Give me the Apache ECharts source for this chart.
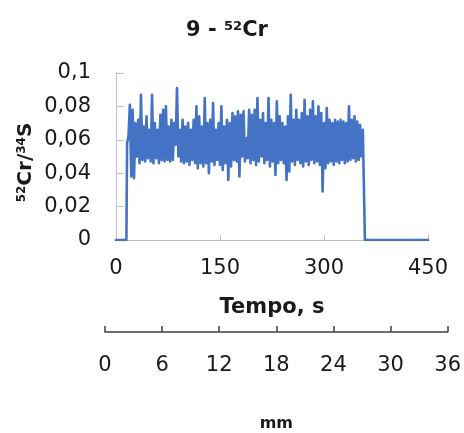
<!DOCTYPE html>
<html><head><meta charset="utf-8">
<script src="https://cdn.jsdelivr.net/npm/echarts@6/dist/echarts.min.js"></script>
<style>html,body{margin:0;padding:0;background:#fff}#c{width:464px;height:433px}</style>
</head><body><div id="c"></div>
<script>
const timeS = [0,15,16,18,20,22,24,26,28,30,32,34,
36,38,40,42,44,46,48,50,52,54,
56,58,60,62,64,66,68,70,72,74,
76,78,80,82,84,86,88,90,92,94,
96,98,100,102,104,106,108,110,112,114,
116,118,120,122,124,126,128,130,132,134,
136,138,140,142,144,146,148,150,152,154,
156,158,160,162,164,166,168,170,172,174,
176,178,180,182,184,186,188,190,192,194,
196,198,200,202,204,206,208,210,212,214,
216,218,220,222,224,226,228,230,232,234,
236,238,240,242,244,246,248,250,252,254,
256,258,260,262,264,266,268,270,272,274,
276,278,280,282,284,286,288,290,292,294,
296,298,300,302,304,306,308,310,312,314,
316,318,320,322,324,326,328,330,332,334,
336,338,340,342,344,346,348,350,352,354,
356,358,359,450];
const ratio = [0,0,0.058,0.062,0.081,0.038,0.078,0.037,0.070,0.050,0.072,0.046,
0.087,0.048,0.068,0.047,0.074,0.049,0.066,0.047,0.087,0.046,
0.070,0.049,0.066,0.046,0.075,0.048,0.078,0.047,0.080,0.048,
0.068,0.047,0.072,0.048,0.070,0.057,0.091,0.050,0.066,0.047,
0.072,0.046,0.068,0.047,0.070,0.045,0.066,0.048,0.072,0.046,
0.080,0.043,0.074,0.046,0.068,0.044,0.085,0.046,0.070,0.040,
0.072,0.047,0.082,0.045,0.066,0.048,0.070,0.045,0.080,0.042,
0.068,0.046,0.072,0.036,0.070,0.044,0.076,0.048,0.074,0.047,
0.077,0.038,0.075,0.050,0.077,0.047,0.061,0.049,0.078,0.046,
0.075,0.048,0.078,0.045,0.085,0.047,0.072,0.050,0.076,0.046,
0.070,0.048,0.085,0.044,0.072,0.047,0.070,0.039,0.083,0.046,
0.074,0.048,0.070,0.046,0.068,0.036,0.074,0.041,0.087,0.047,
0.072,0.045,0.078,0.048,0.072,0.046,0.076,0.044,0.084,0.047,
0.074,0.045,0.078,0.048,0.083,0.046,0.074,0.047,0.080,0.045,
0.076,0.029,0.070,0.043,0.079,0.046,0.072,0.047,0.070,0.045,
0.072,0.047,0.071,0.046,0.072,0.048,0.071,0.046,0.070,0.047,
0.080,0.048,0.072,0.049,0.074,0.047,0.071,0.048,0.069,0.050,
0.066,0.065,0,0];
const yTicks = [0,0.02,0.04,0.06,0.08,0.1];
const xTicksTime = [0,150,300,450];
const xTicksMm = [0,6,12,18,24,30,36];

const FF = 'DejaVu Sans, Verdana, sans-serif';
const chart = echarts.init(document.getElementById('c'));
const fmtComma = v => String(+v.toFixed(2)).replace('.', ',');
chart.setOption({
  animation:false,
  backgroundColor:'#ffffff',
  textStyle:{fontFamily:FF},
  title:{
    text:'{b|9 - }{s|52}{b|Cr}',
    left:222, top:15, textAlign:'center',
    textStyle:{rich:{
      b:{fontSize:21,fontWeight:'bold',color:'#1a1a1a',fontFamily:FF},
      s:{fontSize:13,fontWeight:'bold',color:'#1a1a1a',verticalAlign:'top',fontFamily:FF}
    }}
  },
  grid:[
    {left:116,right:36,top:73,bottom:193},
    {left:105,right:16,top:300,height:32}
  ],
  xAxis:[
    {type:'value',gridIndex:0,min:0,max:450,interval:150,
     axisLine:{show:true,lineStyle:{color:'#bfbfbf',width:1}},
     axisTick:{show:true,inside:true,length:5,lineStyle:{color:'#bfbfbf'}},
     splitLine:{show:false},
     axisLabel:{fontSize:21,color:'#1a1a1a',margin:18,fontFamily:FF},
     name:'Tempo, s',nameLocation:'middle',nameGap:57,nameMoveOverlap:false,
     nameTextStyle:{fontSize:21,fontWeight:'bold',color:'#1a1a1a',fontFamily:FF}},
    {type:'value',gridIndex:1,min:0,max:36,interval:6,position:'bottom',
     axisLine:{show:true,lineStyle:{color:'#404040',width:1.5}},
     axisTick:{show:true,inside:true,length:6,lineStyle:{color:'#404040',width:1.5}},
     splitLine:{show:false},
     axisLabel:{fontSize:21,color:'#1a1a1a',margin:23,fontFamily:FF},
     name:'mm',nameLocation:'middle',nameGap:84,nameMoveOverlap:false,
     nameTextStyle:{fontSize:16,fontWeight:'bold',color:'#1a1a1a',fontFamily:FF}}
  ],
  yAxis:[
    {type:'value',gridIndex:0,min:0,max:0.1,interval:0.02,
     axisLine:{show:true,lineStyle:{color:'#bfbfbf',width:1}},
     axisTick:{show:true,inside:true,length:8,lineStyle:{color:'#bfbfbf'}},
     splitLine:{show:false},
     axisLabel:{fontSize:21,color:'#1a1a1a',margin:25,formatter:fmtComma,fontFamily:FF},
     name:'{s|52}{b|Cr/}{s|34}{b|S}',nameLocation:'middle',nameRotate:90,nameGap:80,nameMoveOverlap:false,
     nameTextStyle:{padding:[0,12,0,0],rich:{
       b:{fontSize:20,fontWeight:'bold',color:'#1a1a1a',fontFamily:FF},
       s:{fontSize:12,fontWeight:'bold',color:'#1a1a1a',verticalAlign:'top',fontFamily:FF}
     }}},
    {type:'value',gridIndex:1,show:false,min:0,max:1}
  ],
  series:[
    {type:'line',xAxisIndex:0,yAxisIndex:0,showSymbol:false,
     data:timeS.map((t,i)=>[t,ratio[i]]),
     lineStyle:{color:'#4472C4',width:2.6,join:'round',cap:'round'},itemStyle:{color:'#4472C4'}}
  ]
});
</script></body></html>
